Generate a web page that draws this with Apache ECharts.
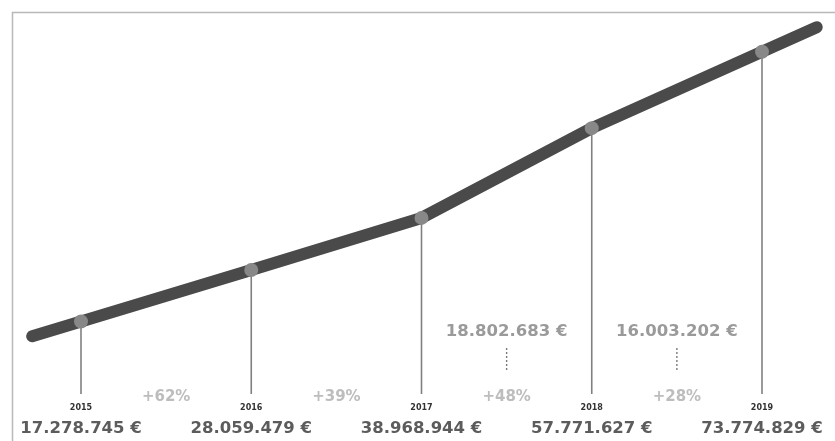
<!DOCTYPE html>
<html>
<head>
<meta charset="utf-8">
<script src="https://cdn.jsdelivr.net/npm/echarts@6/dist/echarts.min.js"></script>
<style>
  html, body { margin: 0; padding: 0; background: #ffffff; }
  #chart { width: 835px; height: 441px; }
</style>
</head>
<body>
<div id="chart"></div>
<script>
// Yearly revenue, 2015–2019
const years = ['2015', '2016', '2017', '2018', '2019'];
const revenue = [17278745, 28059479, 38968944, 57771627, 73774829];
const revenueLabels = ['17.278.745 €', '28.059.479 €', '38.968.944 €', '57.771.627 €', '73.774.829 €'];
// Year-over-year growth between consecutive years
const growthLabels = ['+62%', '+39%', '+48%', '+28%'];
// Absolute increase, shown for the last two steps only
const increaseLabels = ['', '', '18.802.683 €', '16.003.202 €'];

const FONT = '"DejaVu Sans", "Open Sans", sans-serif';
const chart = echarts.init(document.getElementById('chart'), null, { renderer: 'canvas' });

const option = {
  animation: false,
  backgroundColor: '#ffffff',
  grid: { left: 81, right: 73, top: 22, bottom: 37 },
  xAxis: {
    type: 'category',
    data: years,
    boundaryGap: false,
    axisLine: { show: false },
    axisTick: { show: false },
    splitLine: { show: false },
    axisLabel: {
      interval: 0,
      margin: 0,
      hideOverlap: false,
      formatter: (v, i) => '{y|' + v + '}\n{v|' + revenueLabels[i] + '}',
      rich: {
        y: { fontFamily: FONT, fontSize: 8, fontWeight: 'bold', color: '#333333', lineHeight: 8 },
        v: { fontFamily: FONT, fontSize: 16.5, fontWeight: 'bold', color: '#5c5c5c', lineHeight: 33 }
      }
    }
  },
  yAxis: {
    type: 'value',
    min: 0,
    max: 80000000,
    show: false,
    splitLine: { show: false }
  },
  series: [
    {
      // vertical drop lines from each point
      type: 'custom',
      z: 1,
      data: revenue.map((v, i) => [i, v]),
      renderItem: (params, api) => {
        const p = api.coord([api.value(0), api.value(1)]);
        const base = api.coord([api.value(0), 0])[1] - 10;
        return {
          type: 'line',
          shape: { x1: p[0], y1: p[1], x2: p[0], y2: base },
          style: { stroke: '#808080', lineWidth: 1.6 }
        };
      }
    },
    {
      // growth and increase annotations between years
      type: 'custom',
      z: 1,
      data: growthLabels.map((g, i) => [i, i + 1]),
      renderItem: (params, api) => {
        const i = params.dataIndex;
        const a = api.coord([api.value(0), 0]);
        const b = api.coord([api.value(1), 0]);
        const mx = (a[0] + b[0]) / 2;
        const base = a[1];
        const children = [{
          type: 'text',
          style: {
            text: growthLabels[i], x: mx, y: base - 7,
            align: 'center', verticalAlign: 'middle',
            font: 'bold 15px ' + FONT, fill: '#bdbdbd'
          }
        }];
        if (increaseLabels[i]) {
          children.push({
            type: 'text',
            style: {
              text: increaseLabels[i], x: mx, y: base - 72,
              align: 'center', verticalAlign: 'middle',
              font: 'bold 16.5px ' + FONT, fill: '#9a9a9a'
            }
          });
          children.push({
            type: 'line',
            shape: { x1: mx, y1: base - 56, x2: mx, y2: base - 34 },
            style: { stroke: '#7a7a7a', lineWidth: 1.4, lineDash: [2, 2] }
          });
        }
        return { type: 'group', children };
      }
    },
    {
      name: 'Revenue',
      type: 'line',
      z: 5,
      data: revenue,
      smooth: false,
      symbol: 'circle',
      symbolSize: 14,
      itemStyle: { color: '#888888' },
      lineStyle: { color: '#4a4a4a', width: 12, cap: 'round', join: 'round' },
      emphasis: { disabled: true }
    }
  ]
};

chart.setOption(option);

// Continue the trend line past the first and last year, plus the frame
const toPx = (i) => chart.convertToPixel({ xAxisIndex: 0, yAxisIndex: 0 }, [i, revenue[i]]);
function tail(from, to, len) {
  const dx = from[0] - to[0], dy = from[1] - to[1];
  const d = Math.hypot(dx, dy);
  return [from[0] + dx / d * len, from[1] + dy / d * len];
}
const n = revenue.length;
const p0 = toPx(0), p1 = toPx(1), pl = toPx(n - 1), pk = toPx(n - 2);
const start = tail(p0, p1, 51);
const end = tail(pl, pk, 60);
const tailStyle = { stroke: '#4a4a4a', lineWidth: 12, lineCap: 'round' };

chart.setOption({
  graphic: [
    {
      type: 'rect', z: 0, silent: true,
      shape: { x: 12.5, y: 12.5, width: 900, height: 500 },
      style: { fill: 'none', stroke: '#b8b8b8', lineWidth: 1.5 }
    },
    {
      type: 'line', z: 3, silent: true,
      shape: { x1: start[0], y1: start[1], x2: p0[0], y2: p0[1] },
      style: tailStyle
    },
    {
      type: 'line', z: 3, silent: true,
      shape: { x1: pl[0], y1: pl[1], x2: end[0], y2: end[1] },
      style: tailStyle
    }
  ]
});
</script>
</body>
</html>
